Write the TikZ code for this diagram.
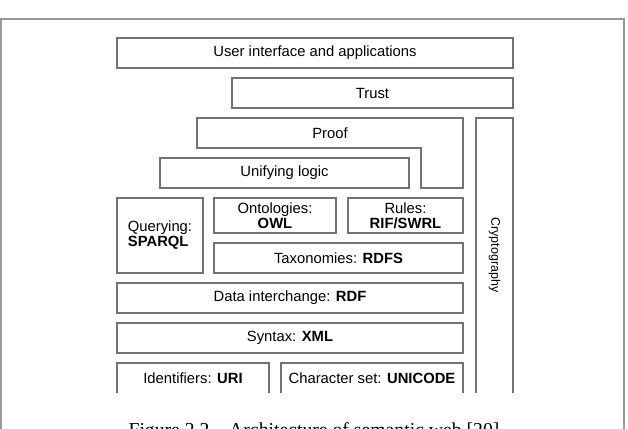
\documentclass[tikz,border=0pt]{standalone}
\usepackage{fontspec}
\setmainfont{Liberation Sans}
\newfontfamily\capfont{Liberation Serif}

\begin{document}
\begin{tikzpicture}[x=1pt, y=-1pt,
  wall/.style={draw=black!55, line width=1.3pt},
  layer/.style={wall, rectangle, minimum height=30pt, inner sep=0pt, font=\fontsize{14.8}{15}\selectfont},
  lbl/.style={inner sep=0pt, font=\fontsize{14.8}{15}\selectfont}]
\clip (0,0) rectangle (628,428);

\draw[wall, draw=black!40] (1,440) -- (1,19) -- (624,19) -- (624,440);

\node[layer, minimum width=396pt] (ui) at (315,53) {User interface and applications};
\node[layer, minimum width=281pt] (trust) at (372.5,93) {Trust};

\draw[wall] (197,148) -- (197,118) -- (463,118) -- (463,188) -- (421,188) -- (421,148) -- cycle;
\node[lbl] (proof) at (330,133) {Proof};

\node[layer, minimum width=249pt] (unify) at (284.5,173) {Unifying logic};

\node[layer, minimum width=86pt, minimum height=75pt, align=left] (query) at (160,235.5) {Querying:\\\textbf{SPARQL}};
\node[layer, minimum width=122pt, minimum height=35pt, align=center] (onto) at (275,215.5) {Ontologies:\\\textbf{OWL}};
\node[layer, minimum width=115pt, minimum height=35pt, align=center] (rules) at (405.5,215.5) {Rules:\\\textbf{RIF/SWRL}};
\node[layer, minimum width=249pt] (tax) at (338.5,258) {Taxonomies: \textbf{RDFS}};

\node[layer, minimum width=346pt] (rdf) at (290,298) {Data interchange: \textbf{RDF}};
\node[layer, minimum width=346pt] (xml) at (290,338) {Syntax: \textbf{XML}};

\draw[wall] (117,393) -- (117,363) -- (269,363) -- (269,393);
\node[lbl] (uri) at (193,378) {Identifiers: \textbf{URI}};
\draw[wall] (281,393) -- (281,363) -- (463,363) -- (463,393);
\node[lbl] (unicode) at (372,378) {Character set: \textbf{UNICODE}};

\draw[wall] (476,393) -- (476,118) -- (513,118) -- (513,393);
\node[lbl, rotate=-90, font=\fontsize{12.5}{14}\selectfont] (crypto) at (494.5,255) {Cryptography};

\node[inner sep=0pt, anchor=base, font=\capfont\fontsize{19.7}{22}\selectfont] (caption) at (314,436) {Figure 2.2 – Architecture of semantic web [20]};
\end{tikzpicture}
\end{document}
